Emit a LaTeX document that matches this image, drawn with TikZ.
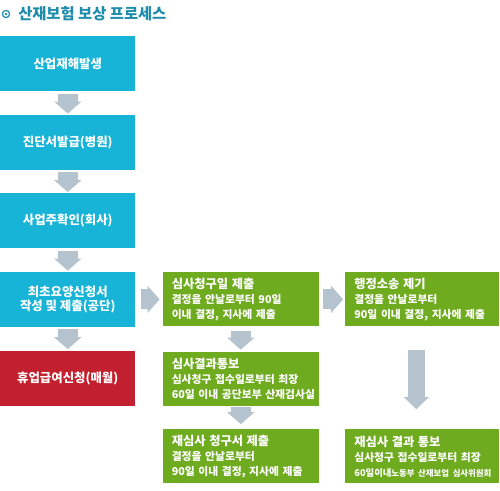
\documentclass[tikz,border=0pt]{standalone}
\usepackage{fontspec}
\setmainfont{Noto Sans CJK KR}
\usetikzlibrary{arrows.meta,positioning}
\definecolor{sky}{HTML}{17B4D7}
\definecolor{crimson}{HTML}{C3202F}
\definecolor{leaf}{HTML}{6FAB1F}
\definecolor{steel}{HTML}{B5C3CE}
\definecolor{heading}{HTML}{1E8CAC}

\begin{document}
\begin{tikzpicture}[
  stepbox/.style={fill=sky, text=white, minimum width=101.25pt, minimum height=41.25pt,
    inner sep=0pt, align=center, font=\fontsize{9.3}{11}\selectfont\bfseries},
  greenbox/.style={fill=leaf, text=white, text width=103.5pt, inner xsep=6.75pt, inner ysep=0pt,
    minimum height=40.5pt, align=left, font=\fontsize{8.1}{11.25}\selectfont\bfseries},
  flow/.style={draw=steel, line width=15pt, -{Triangle[length=9pt, width=20.5pt, line width=0pt]}},
  bigflow/.style={draw=steel, line width=12.75pt, -{Triangle[length=9pt, width=18.75pt, line width=0pt]}}
]
  \useasboundingbox (0,0) rectangle (375pt,-367.5pt);

  % heading
  \draw[heading, line width=0.9pt] (4.5pt,-10.5pt) circle (2.7pt);
  \fill[heading] (4.5pt,-10.5pt) circle (1.1pt);
  \node[anchor=west, inner sep=0pt, text=heading, font=\fontsize{11.5}{13}\selectfont\bfseries] (title)
    at (13.5pt,-10.5pt) {산재보험 보상 프로세스};

  % left column
  \node[stepbox, anchor=north west] (occur) at (0,-27pt) {산업재해발생};
  \node[stepbox, below=17.25pt of occur] (diag) {진단서발급(병원)};
  \node[stepbox, below=17.25pt of diag] (confirm) {사업주확인(회사)};
  \node[stepbox, below=17.25pt of confirm] (claim) {최초요양신청서\\작성 및 제출(공단)};
  \node[stepbox, fill=crimson, below=18pt of claim] (leave) {휴업급여신청(매월)};

  % review column
  \node[greenbox, right=20.25pt of claim] (review)
    {{\fontsize{9.2}{11.25}\selectfont 심사청구일 제출}\\결정을 안날로부터 90일\\이내 결정, 지사에 제출};
  \node[greenbox, below=18.75pt of review] (result)
    {{\fontsize{9.2}{11.25}\selectfont 심사결과통보}\\심사청구 접수일로부터 최장\\\mbox{60일 이내 공단보부 산재검사실}};
  \node[greenbox, below=17.25pt of result] (rereview)
    {{\fontsize{9.2}{11.25}\selectfont 재심사 청구서 제출}\\결정을 안날로부터\\90일 이내 결정, 지사에 제출};

  % right column
  \node[greenbox, text width=102pt, right=19.5pt of review] (suit)
    {{\fontsize{9.2}{11.25}\selectfont 행정소송 제기}\\결정을 안날로부터\\90일 이내 결정, 지사에 제출};
  \node[greenbox, text width=102pt, right=19.5pt of rereview] (final)
    {{\fontsize{9.2}{11.25}\selectfont 재심사 결과 통보}\\심사청구 접수일로부터 최장\\\mbox{\fontsize{7}{11.25}\selectfont 60일이내{\fontsize{6.3}{11.25}\selectfont 노동부 산재보업 심사위원회}}};

  % arrows
  \draw[flow, shorten <=1.5pt, shorten >=0.75pt] (occur) -- (diag);
  \draw[flow, shorten <=1.5pt, shorten >=0.75pt] (diag) -- (confirm);
  \draw[flow, shorten <=1.5pt, shorten >=0.75pt] (confirm) -- (claim);
  \draw[flow, shorten <=1.5pt, shorten >=1.5pt] (claim) -- (leave);
  \draw[flow, shorten <=3.75pt, shorten >=2.25pt] (claim) -- (review);
  \draw[flow, shorten <=3pt, shorten >=1.5pt] (review) -- (suit);
  \draw[flow, shorten <=3pt, shorten >=1.5pt] (review) -- (result);
  \draw[flow, shorten <=0.75pt, shorten >=3.75pt] (result) -- (rereview);
  \draw[bigflow, shorten <=17.25pt, shorten >=15pt] ([xshift=-4.5pt]suit.south) -- ([xshift=-4.5pt]final.north);
\end{tikzpicture}
\end{document}
